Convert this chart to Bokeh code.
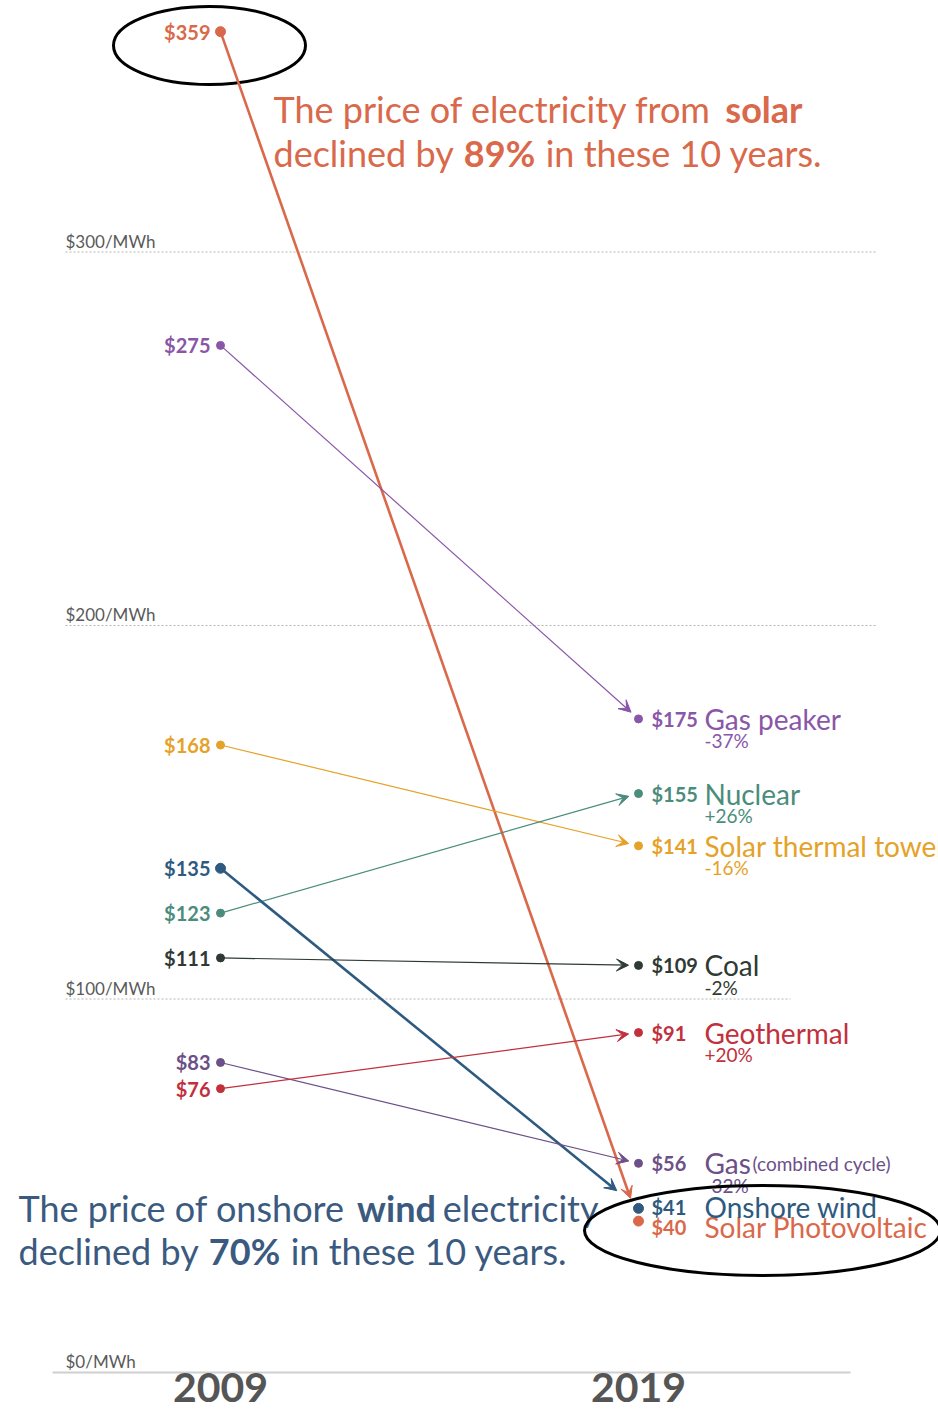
from bokeh.plotting import figure
from bokeh.models import ColumnDataSource, Arrow, VeeHead
from bokeh.core.properties import value
from bokeh.embed import file_html
from bokeh.resources import INLINE
import math

# ---------------- data ----------------
sources = ["Solar Photovoltaic", "Gas peaker", "Solar thermal tower", "Nuclear",
           "Onshore wind", "Coal", "Gas", "Geothermal"]
price_2009 = [359, 275, 168, 123, 135, 111, 83, 76]
price_2019 = [40, 175, 141, 155, 41, 109, 56, 91]
change_labels = ["", "-37%", "-16%", "+26%", "", "-2%", "-32%", "+20%"]
name_suffix = ["", "", "", "", "", "", "(combined cycle)", ""]
years = [2009, 2019]
grid_values = [0, 100, 200, 300]
grid_labels = ["$0/MWh", "$100/MWh", "$200/MWh", "$300/MWh"]

# ---------------- style ----------------
colors = ["#d9694a", "#8a56a8", "#e5a228", "#4b8c7c",
          "#2e5a80", "#2f3a34", "#6c5088", "#c1303d"]
line_widths = [2.6, 1.2, 1.2, 1.2, 2.6, 1.2, 1.2, 1.2]
dot_sizes = [10, 8, 8, 8, 10, 8, 8, 8]
arrow_gap_px = [24, 10, 10, 10, 28, 10, 10, 10]
dot_nudge_px = [2, 0, 0, 0, 11, 0, 0, 0]        # upward pixel nudge of 2019 dots
label_nudge_px = [4, 0, 0, 0, -12, 0, 0, 0]     # downward pixel nudge of 2019 labels
FONT = value("Lato")

# pixel geometry of the page
XS = 41.8      # px per year
YS = 3.735     # px per $/MWh
X0PX = 220     # px of 2009
Y0PX = 1372    # px of $0

def px2x(px):
    return years[0] + (px - X0PX) / XS

def py2y(py):
    return (Y0PX - py) / YS

W, H = 938, 1411
p = figure(width=W, height=H, output_backend="svg", toolbar_location=None,
           x_range=(px2x(0), px2x(W)), y_range=(py2y(H), py2y(0)),
           x_axis_type=None, y_axis_type=None, min_border=0, tools="")
p.outline_line_color = None
p.grid.visible = False
p.background_fill_color = "white"

# ---------------- gridlines ----------------
grid_x0 = [px2x(52), px2x(65), px2x(65), px2x(65)]
grid_x1 = [px2x(850), px2x(790), px2x(875), px2x(875)]
gsrc = ColumnDataSource(dict(y=grid_values, lab=grid_labels, xl=[px2x(65)] * 4))
p.segment(x0="x0", x1="x1", y0="y", y1="y", source=ColumnDataSource(dict(
    y=grid_values[1:], x0=grid_x0[1:], x1=grid_x1[1:])),
    line_color="#b5b5b5", line_width=1, line_dash="2 2")
p.segment(x0=grid_x0[0], x1=grid_x1[0], y0=grid_values[0], y1=grid_values[0],
          line_color="#cfcfcf", line_width=2)
p.text(x="xl", y="y", text="lab", source=gsrc, text_font=FONT, text_font_size="17px",
       text_color="#5a5a5a", text_baseline="middle", y_offset=-11)

# ---------------- arrows ----------------
y2019_disp = [v + n / YS for v, n in zip(price_2019, dot_nudge_px)]
for i in range(len(sources)):
    dxp = (years[1] - years[0]) * XS
    dyp = (y2019_disp[i] - price_2009[i]) * YS
    L = math.hypot(dxp, dyp)
    f = 1 - arrow_gap_px[i] / L
    xe = years[0] + f * (years[1] - years[0])
    ye = price_2009[i] + f * (y2019_disp[i] - price_2009[i])
    p.add_layout(Arrow(x_start=years[0], y_start=price_2009[i], x_end=xe, y_end=ye,
                       line_color=colors[i], line_width=line_widths[i],
                       end=VeeHead(size=12, fill_color=colors[i], line_color=colors[i],
                                   line_width=1)))

# ---------------- dots and labels ----------------
src = ColumnDataSource(dict(
    name=sources, v0=price_2009, v1=price_2019, v1d=y2019_disp,
    x0=[years[0]] * len(sources), x1=[years[1]] * len(sources),
    color=colors, size=dot_sizes, chg=change_labels, suffix=name_suffix,
    lab0=["$%d" % v for v in price_2009], lab1=["$%d" % v for v in price_2019],
    nud=label_nudge_px, nud_pct=[n + 22 for n in label_nudge_px],
))
p.scatter(x="x0", y="v0", size="size", color="color", source=src)
p.scatter(x="x1", y="v1d", size="size", color="color", source=src)

p.text(x="x0", y="v0", text="lab0", source=src, x_offset=-10, text_align="right",
       text_baseline="middle", text_font=FONT, text_font_style="bold",
       text_font_size="20px", text_color="color")
p.text(x="x1", y="v1", text="lab1", source=src, x_offset=13, y_offset="nud",
       text_align="left", text_baseline="middle", text_font=FONT,
       text_font_style="bold", text_font_size="20px", text_color="color")
p.text(x="x1", y="v1", text="name", source=src, x_offset=66, y_offset="nud",
       text_align="left", text_baseline="middle", text_font=FONT,
       text_font_size="28px", text_color="color")
p.text(x="x1", y="v1", text="suffix", source=src, x_offset=114, y_offset="nud",
       text_align="left", text_baseline="middle", text_font=FONT,
       text_font_size="19px", text_color="color")
p.text(x="x1", y="v1", text="chg", source=src, x_offset=66, y_offset="nud_pct",
       text_align="left", text_baseline="middle", text_font=FONT,
       text_font_size="19px", text_color="color")

# ---------------- year labels ----------------
p.text(x=years, y=[0, 0], text=[str(y) for y in years], y_offset=15,
       text_align="center", text_baseline="middle", text_font=FONT,
       text_font_style="bold", text_font_size="41px", text_color="#555555")

# ---------------- annotations ----------------
def run(txt, px, py, align, bold, color):
    p.text(x=[px2x(px)], y=[py2y(py)], text=[txt], text_align=align,
           text_baseline="middle", text_font=FONT,
           text_font_style="bold" if bold else "normal",
           text_font_size="36px", text_color=color)

ORANGE = "#d9694a"
BLUE = "#3b5a80"
run("The price of electricity from", 273, 108, "left", False, ORANGE)
run("solar", 802, 108, "right", True, ORANGE)
run("declined by", 273, 152, "left", False, ORANGE)
run("89%", 499, 152, "center", True, ORANGE)
run("in these 10 years.", 822, 152, "right", False, ORANGE)

run("The price of onshore", 18, 1207, "left", False, BLUE)
run("wind", 396, 1207, "center", True, BLUE)
run("electricity", 598, 1207, "right", False, BLUE)
run("declined by", 18, 1250, "left", False, BLUE)
run("70%", 244, 1250, "center", True, BLUE)
run("in these 10 years.", 567, 1250, "right", False, BLUE)

# ---------------- highlight ellipses ----------------
p.ellipse(x=[px2x(209), px2x(762)], y=[py2y(45), py2y(1230)],
          width=[192 / XS, 356 / XS], height=[78 / YS, 90 / YS],
          fill_color=None, line_color="black", line_width=3)

open("out.html", "w").write(file_html(p, INLINE))
